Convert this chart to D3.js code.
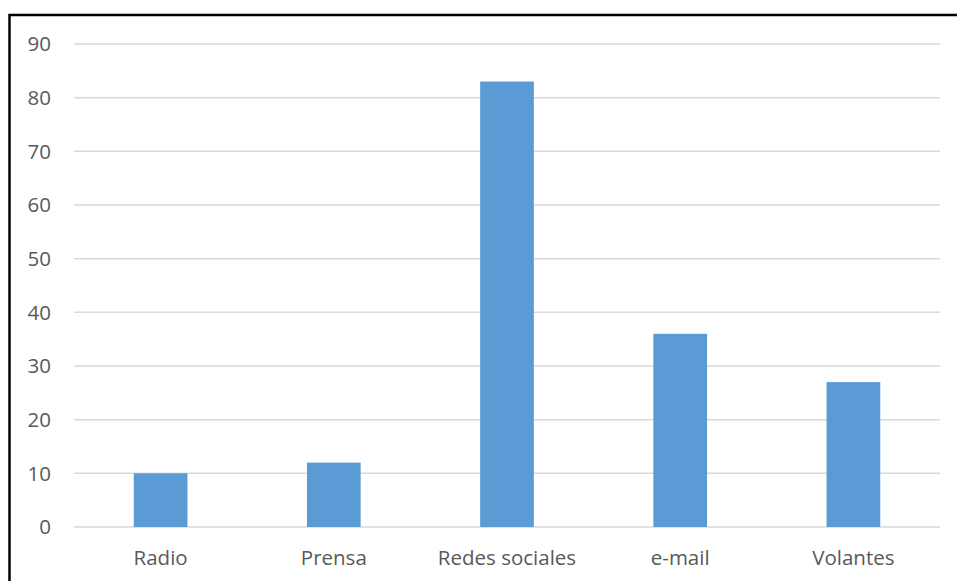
<!DOCTYPE html>
<html>
<head>
<meta charset="utf-8">
<script src="https://cdn.jsdelivr.net/npm/d3@7"></script>
<style>
  body { margin: 0; background: #fff; }
  svg text { font-family: "Open Sans", sans-serif; fill: #595959; }
</style>
</head>
<body>
<div id="viz"></div>
<script>
const W = 957, H = 581;
const categories = ["Radio", "Prensa", "Redes sociales", "e-mail", "Volantes"];
const values = [10, 12, 83, 36, 27];
const yTicks = [0, 10, 20, 30, 40, 50, 60, 70, 80, 90];

const m = { left: 74, right: 17, top: 44, bottom: 54 };

window.onload = () => draw();

function draw() {
    const svg = d3.select('#viz').append('svg')
        .attr('width', W)
        .attr('height', H);

    // outer frame (right/bottom edges fall outside the picture)
    svg.append('rect')
        .attr('x', 9.5).attr('y', 15)
        .attr('width', W + 20).attr('height', H + 20)
        .attr('fill', 'none')
        .attr('stroke', '#000')
        .attr('stroke-width', 2.5);

    const x = d3.scaleBand()
        .domain(categories)
        .range([m.left, W - m.right])
        .paddingInner(0.69)
        .paddingOuter(0.345);

    const y = d3.scaleLinear()
        .domain([0, 90])
        .range([H - m.bottom, m.top]);

    svg.append('g').selectAll('line')
        .data(yTicks)
        .enter().append('line')
        .attr('x1', m.left).attr('x2', W - m.right)
        .attr('y1', d => y(d)).attr('y2', d => y(d))
        .attr('stroke', '#d9d9d9')
        .attr('stroke-width', 1.5);

    svg.append('g').selectAll('text')
        .data(yTicks)
        .enter().append('text')
        .attr('x', 51)
        .attr('y', d => y(d))
        .attr('dy', '0.36em')
        .attr('text-anchor', 'end')
        .style('font-size', '20.5px')
        .text(d => d);

    svg.append('g').selectAll('rect')
        .data(values)
        .enter().append('rect')
        .attr('x', (d, i) => x(categories[i]))
        .attr('y', d => y(d))
        .attr('width', x.bandwidth())
        .attr('height', d => y(0) - y(d))
        .attr('fill', '#5b9bd5');

    svg.append('g').selectAll('text')
        .data(categories)
        .enter().append('text')
        .attr('x', d => x(d) + x.bandwidth() / 2)
        .attr('y', H - 16)
        .attr('text-anchor', 'middle')
        .style('font-size', '20.5px')
        .text(d => d);
}
</script>
</body>
</html>
